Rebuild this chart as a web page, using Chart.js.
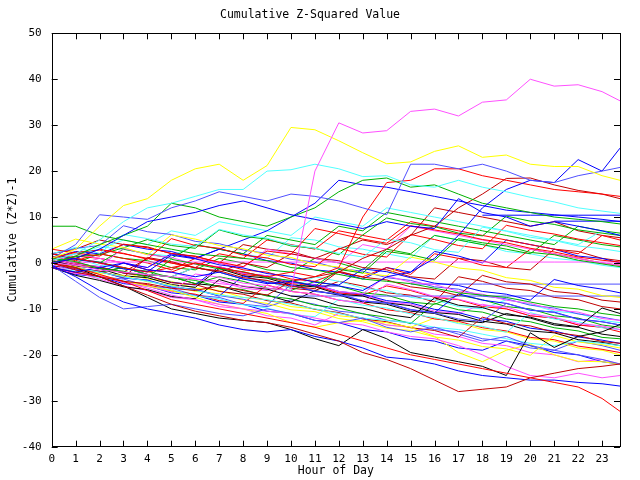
<!DOCTYPE html>
<html>
<head>
<meta charset="utf-8">
<script src="https://cdn.jsdelivr.net/npm/chart.js@4"></script>
<style>
  html, body { margin: 0; padding: 0; background: #fff; }
  #wrap { width: 640px; height: 480px; }
</style>
</head>
<body>
<div id="wrap"><canvas id="chart" width="640" height="480"></canvas></div>
<script>
// hour of day for each sample
const hours = [0,1,2,3,4,5,6,7,8,9,10,11,12,13,14,15,16,17,18,19,20,21,22,23,23.75];

// cumulative (Z*Z)-1, one array per day
const s01 = [0,-0.5,-1.5,-2,-2.5,-3,-3.5,-4.5,-5,-5.5,-6,20,30.5,28.3,28.8,33,33.5,32,35,35.5,40,38.5,38.8,37.3,35.3];
const s02 = [1,3,8,12.5,14,18,20.5,21.5,18,21.2,29.5,29,26.6,24,21.6,22,24.3,25.5,23,23.5,21.5,21,21,19,18];
const s03 = [0.5,2,5,9,12,13,14.5,16,16,20,20.3,21.5,20.5,18.8,19,17,16.5,18,16.5,15.5,14.3,13.3,12,11.3,10.8];
const s04 = [1,4,10.5,10,9.5,12,13.5,15.5,14.5,13.5,15,14.5,13.5,12,10.5,21.5,21.5,20.5,21.5,20,18,17.5,19,20,20.8];
const s05 = [0,1,3,6,9,10,11,12.5,13.5,12,10.5,9.5,8.5,7.5,9,8,7.5,14,11,10,8,9,8,7,6];
const s06 = [-1,-2,-1,0,-1.5,-2,-3,-2,-3.5,-4.5,-4,-5,-5,-6,-3,-2,1,6,12,16,18,17.5,22.5,20,25];
const s07 = [8,8,6,5,4,3,2,1.5,1,0.5,-1,-1.5,-2.5,-3.5,-4,-4.5,-5.5,-6.5,-7,-7.5,-8.5,-9.5,-10,-11,-11.5];
const s08 = [0,1.5,4,6,8,13,12,10,9,8,10,12,15.5,18,18.5,16.5,17,15,13,12,11,10,9.5,9,8.5];
const s09 = [2,1,0,-1,-2,-1,0,-1,-2,-3,-2,-3,-1,10,17.5,18,20.5,20.5,19,18,17,16,15.5,15,14.5];
const s10 = [-1,-2,-3,-4,-4.5,-5.5,-6,-5,-6,-7,-4,-3,-2,1,3,6,8,12,15,18.4,18.5,17,15.8,15,14];
const s11 = [0,-1,-2.5,-4,-6,-8,-9,-10,-11,-12,-13,-14,-15.5,-17,-18.5,-20,-21,-22,-23,-24,-25,-26,-27,-29.5,-32.3];
const s12 = [0,-1.5,-3,-5,-7,-9,-10.5,-11.5,-12.5,-13,-14,-15.5,-17,-19.5,-21,-23,-25.5,-28,-27.5,-27,-25,-24,-23,-22.5,-22];
const s13 = [-0.5,-3,-6,-8.5,-10,-11,-12,-13.5,-14.5,-15,-14.5,-16,-17,-18.5,-20.5,-21,-22,-23.5,-24.5,-25,-25.5,-25.5,-26,-26.3,-26.8];
const s14 = [-0.5,-4,-7.5,-10,-9.5,-9,-10,-11,-11.5,-10,-11,-12.5,-13,-12,-14,-15,-14,-15.5,-17,-16,-18,-19,-20,-21,-22];
const s15 = [0,-1,-3,-5,-7.5,-10,-11,-12,-12.5,-13,-14.5,-16.5,-18,-14.5,-16.5,-19.5,-20.5,-21.5,-22.5,-24.5,-15.2,-18.4,-16,-15,-13.4];
const s16 = [0,-1.5,-3,-4,-5.5,-7,-8,-9,-10,-10.5,-11,-12,-13,-13.5,-15,-16,-16.5,-18,-20,-22.5,-24.5,-25,-24,-25,-24.5];
const s17 = [0,-1,-2.5,-4,-5,-6,-7.5,-9,-10,-11,-13,-14,-13,-12.5,-13,-14,-16,-19.5,-21.5,-19,-17.7,-20,-21.4,-21.5,-22];
const s18 = [0,-1,-2,-3,-4,-5,-6,-7,-7.5,-8,-9,-10,-11,-12,-12.5,-13,-14,-14.5,-15.5,-16.5,-17.5,-18,-17,-17.5,-18];
const s19 = [3,2.2,1.5,4.1,3.3,2.1,1.4,0.2,-0.8,2.6,1.9,7.5,6.4,5.2,4.3,8.1,7.2,6.3,5.1,4.4,3.2,2.4,1.3,0.6,0.2];
const s20 = [1,0.3,-1.2,-1.8,-3.1,0.8,-0.2,-1.3,-1.9,-3.2,-3.8,-5.1,-1.4,-2.2,2.5,1.8,0.6,5.3,4.4,3.7,2.3,1.8,0.6,-0.2,-0.8];
const s21 = [2,0.8,0.1,-1.3,-1.9,1.7,0.9,-0.4,-1.1,-2.3,-2.9,-4.2,-4.8,-1.3,-1.9,-3.2,-4.4,-4.9,-6.2,-6.8,-8.1,-3.6,-4.9,-5.7,-6.5];
const s22 = [-1,-2.3,-2.8,-4.2,-5.1,-6.3,-2.4,-3.1,-4.4,-4.9,-6.2,-6.8,-8.1,-8.7,-4.6,-5.8,-7.3,-7.9,-9.2,-9.6,-11.1,-11.8,-13.2,-13.7,-14.5];
const s23 = [2,3.4,2.1,6.2,5.3,4.1,3.6,7.3,6.1,5.4,3.9,3.2,2.1,1.3,5.2,4.4,2.9,2.3,7.8,6.9,5.6,4.9,3.7,3.1,2.5];
const s24 = [0,-1.2,-1.8,-3.1,1.2,0.3,-1.1,-1.7,-3.2,-3.8,-5.1,-5.6,-1.8,-3.1,-3.7,-5.2,-5.8,-7.1,-2.7,-4.1,-4.6,-6.2,-6.7,-8.1,-8.5];
const s25 = [3,5.2,4.1,3.4,1.8,6.1,5.2,3.8,3.1,1.7,1.2,-0.3,-0.9,-2.2,-2.8,1.3,0.2,-1.1,-1.6,-3.2,-3.8,-5.3,-5.7,-7.1,-7.5];
const s26 = [-1,-2.7,-3.8,-5.2,-5.8,-7.3,-7.8,-3.6,-5.1,-5.7,-7.2,-7.7,-9.3,-9.8,-11.2,-11.9,-7.6,-9.2,-9.7,-11.3,-11.8,-13.2,-13.9,-9.8,-11];
const s27 = [0,-1.3,-1.9,-3.2,-3.8,-5.3,-5.7,-7.1,-7.9,-9.2,-4.7,-6.1,-6.8,-8.2,-8.7,-10.1,-10.9,-12.2,-12.7,-8.8,-10.2,-10.8,-12.3,-12.8,-13.5];
const s28 = [1,2.3,2.8,2.1,0.8,5.3,3.8,3.2,1.7,1.1,-0.3,-0.8,3.2,1.9,1.3,6.2,5.1,3.8,3.1,8.2,7.1,6.3,5.2,4.4,3.8];
const s29 = [0,1.4,1.8,3.3,5.1,3.8,3.2,7.2,5.8,5.2,3.7,3.2,1.8,6.1,9.8,8.6,7.9,6.5,5.9,10.2,9.1,8.4,7.2,6.5,6];
const s30 = [0,-1.4,-1.8,-3.3,-3.7,-5.2,-5.8,-7.2,-2.8,-4.3,-4.8,-6.2,-6.8,-8.3,-8.7,-10.2,-10.8,-6.7,-8.1,-8.8,-10.3,-10.7,-12.2,-12.8,-13.5];
const s31 = [1,-0.2,-0.8,3.2,1.8,1.2,-0.3,-0.8,-2.2,-2.8,-4.1,-4.8,-6.2,-6.7,-2.8,-4.2,-4.7,-6.2,-6.8,-8.1,-8.8,-10.2,-10.7,-12.1,-12.5];
const s32 = [-1,-1.8,-3.2,-3.9,-5.1,-5.8,-7.2,-7.8,-9.1,-9.8,-11.2,-11.7,-7.9,-9.2,-9.8,-11.1,-11.9,-13.2,-13.8,-15.1,-10.8,-12.2,-12.8,-14.1,-14.5];
const s33 = [1,-0.3,-0.9,-2.2,-2.8,-4.3,-4.7,-6.2,-6.8,-8.2,-8.7,-10.1,-10.8,-12.2,-12.8,-14.1,-14.7,-16.2,-11.8,-13.2,-13.7,-15.1,-15.8,-17.1,-17.5];
const s34 = [0,-0.8,-2.2,-2.7,-4.1,-4.8,-6.2,-6.7,-8.1,-8.8,-10.2,-10.6,-12.1,-12.8,-14.2,-14.7,-16.1,-16.8,-18.2,-18.7,-20.1,-15.8,-17.2,-17.8,-18.5];
const s35 = [0.5,-0.7,-1.2,-2.8,-3.2,-4.7,-5.3,-1.2,-2.8,-3.3,-4.8,-5.2,-6.8,-7.2,-8.7,-9.3,-10.8,-11.2,-12.7,-13.3,-14.8,-15.2,-16.7,-17.3,-18];
const s36 = [2,3.2,3.8,8.1,6.8,6.2,4.7,4.2,2.8,2.1,0.8,0.2,-1.2,-1.8,-3.2,-3.8,-5.2,-5.7,-7.2,-7.8,-9.2,-9.8,-11.1,-11.8,-12.5];
const s37 = [-1,-2.2,-2.8,-4.2,-4.7,-6.1,-6.8,-8.2,-8.8,-4.8,-6.2,-6.8,-8.1,-8.7,-10.2,-10.8,-12.2,-12.7,-14.1,-14.8,-16.2,-16.7,-18.1,-18.8,-19.5];
const s38 = [0,-1,-2,0,-1,2,1,3,5,7,10,13,18,17,16.5,15.5,14.5,13.5,12.5,11.5,11,10.5,10,9.5,9];
const s39 = [1,2,3,5,4,7,6,9,8,7,6,10,9,8,12,11,10,9,8,7,6,5,4,7,6];
const s40 = [2,1,0,3,2,1,4,3,2,6,5,4,8,7,11,10,9,8,7,6,5,4,8,7,6.5];
const s41 = [0,1,3,2,1,0,-1,2,1,5,4,3,7,6,5,9,8,7,6,5,4,3,2,6,5];
const s42 = [-1,0,-1,-2,1,0,-1,-2,0,-1,2,1,3,5,4,6,12,11,10,9,8,9,7,6,5.5];
const s43 = [0,2,1,0,-1,2,1,0,-1,3,2,1,0,4,3,8,7,6,5,4,3,2,1,0,-0.5];
const s44 = [2,0.8,0.2,-1.2,-1.8,-3.2,-3.8,-5.2,-5.8,-7.2,-7.8,-9.2,-9.8,-11.1,-11.8,-13.2,-8.8,-10.2,-10.7,-12.2,-12.8,-14.1,-14.8,-16.2,-16.5];
const s45 = [1,-0.2,-0.8,-2.2,-2.8,-4.2,-4.8,-0.8,-2.2,-2.8,-4.2,-4.7,-6.2,-6.8,-8.2,-8.7,-10.1,-10.8,-12.2,-12.7,-14.2,-14.8,-16.1,-16.8,-17.5];
// days with no new data late in the day stay flat
const s46 = [0.2,0.2,0.2,0.2,0.2,0.2,0.2,0.2,0.2,0.2,0.2,0.2,0.2,0.2,0.2,0.2,0.2,0.2,0.2,0.2,0.2,0.2,0.2,0.2,0.2];
const s47 = [null,null,null,null,null,null,null,null,null,null,-7.2,-7.2,-7.2,-7.2,-7.2,-7.2,-7.2,-7.2,-7.2,-7.2,-7.2,-7.2,-7.2,-7.2,-7.2];
const s48 = [null,null,null,null,null,null,null,null,null,null,null,null,null,null,null,-4.6,-4.6,-4.6,-4.6,-4.6,-4.6,-4.6,-4.6,-4.6,-4.6];
const s49 = [null,null,null,null,null,null,null,null,null,null,null,null,null,null,null,null,null,null,10.4,10.4,10.4,10.4,10.4,10.4,10.4];
const s50 = [null,null,null,null,null,null,null,null,null,null,null,null,null,null,null,null,null,null,null,null,null,9.1,9.1,9.1,9.1];
const s51 = [1.5,0.5,2,1,0,-1.5,1,0,-1.5,-2,-3.5,-4,-2,-3,-1,-2.5,2,1,-0.5,-1,3,2,1,0,-0.5];
const s52 = [0,-1,-2,-1,-2.5,-3,-4.5,-3,-4,-5.5,-6,-4,-5,-6.5,-7,-8.5,-9,-7,-8,-9.5,-10,-11.5,-12,-13.5,-14];
const s53 = [1,2.5,2,4,3,2.5,1,3,2,0.5,0,-1.5,-2,-3.5,-1,-2,2.5,1.5,0,5,4,3,1.5,1,0];
const s54 = [-0.5,-2,-3.5,-5,-6,-7.5,-8,-9.5,-10,-11.5,-12,-13.5,-11,-12,-13.5,-14,-15.5,-16,-17.5,-18,-19.5,-20,-21.5,-21,-22];
const s55 = [0,1,-0.5,-1,-2.5,-3,-1,-2,-3.5,-4,-5.5,-3,-4,-5.5,-6,-7.5,-8,-9.5,-10,-8,-9,-10.5,-11,-12.5,-13];
const s56 = [2,3,5,4,3.5,2,1.5,0,4,3,2.5,1,0.5,-1,-1.5,-3,-3.5,1,0.5,-1,-1.5,3,2.5,1,0.5];
const s57 = [1,0,-1.5,-2,-3.5,-4,-5.5,-6,-7.5,-8,-9.5,-10,-11.5,-12,-13.5,-14,-12,-13,-14.5,-15,-16.5,-17,-18.5,-19,-20];
const s58 = [0,-1.5,-2,-1,-2.5,-3,-4.5,-5,-6.5,-7,-8.5,-6,-7,-8.5,-9,-10.5,-11,-12.5,-13,-11,-12,-13.5,-14,-15.5,-16];
const s59 = [-0.5,-1.5,-3,-3.5,-5,-5.5,-7,-7.5,-9,-9.5,-8,-9,-10.5,-11,-12.5,-13,-14.5,-15,-16.5,-17,-18.5,-19,-17,-18,-19];
const s60 = [0.5,1.5,1,0,-1.5,-2,0,-1,-2.5,-3,-4.5,-5,-6.5,-7,-5,-6,-7.5,-8,-9.5,-10,-11.5,-12,-13.5,-14,-15];
const s61 = [1,0,2,1,0.5,-1,-1.5,1,0,-1.5,-2,1,0,-1.5,3,2,6,5,4,3,2,6,5,4,3.5];
const s62 = [-1,-2.5,-3,-4.5,-5,-6.5,-7,-8.5,-9,-10.5,-11,-12.5,-13,-14.5,-15,-16.5,-17,-18.5,-19,-17,-18,-19.5,-20,-21.5,-22];
const s63 = [0.5,-0.5,1,0,-1.5,-2,-3.5,-4,-5.5,-6,-4,-5,-6.5,-7,-8.5,-9,-10.5,-11,-9,-10,-11.5,-12,-13.5,-14,-14.5];
const s64 = [1,2,3.5,3,2,1.5,4,3,2,1,5.5,5,3.5,3,2,1,6,5,4,2.5,2,1,0.5,-0.5,-1];
const s65 = [0,1,0,-1,-2.5,-3,-1,-2,-3.5,-4,-5.5,-6,-4,-5,-6.5,-7,-8.5,-3,-4,-5.5,-6,-7.5,-8,-9.5,-10];

const series = [s01,s02,s03,s04,s05,s06,s07,s08,s09,s10,s11,s12,s13,s14,s15,s16,s17,s18,s19,s20,
  s21,s22,s23,s24,s25,s26,s27,s28,s29,s30,s31,s32,s33,s34,s35,s36,s37,s38,s39,s40,
  s41,s42,s43,s44,s45,s46,s47,s48,s49,s50,s51,s52,s53,s54,s55,s56,s57,s58,s59,s60,
  s61,s62,s63,s64,s65];
const seriesColors = ["#ff50ff","#ffff00","#50ffff","#5050ff","#0000ff","#0000ff","#00b000","#00b000","#ff0000","#c00000",
  "#ff0000","#c00000","#0000ff","#5050ff","#000000","#ff50ff","#ffff00","#50ffff","#ff0000","#00b000",
  "#0000ff","#ff50ff","#50ffff","#c00000","#ffff00","#000000","#5050ff","#ff0000","#00b000","#0000ff",
  "#ff50ff","#50ffff","#c00000","#ffff00","#000000","#5050ff","#ff0000","#0000ff","#50ffff","#00b000",
  "#ff0000","#c00000","#ff50ff","#00b000","#0000ff","#ff50ff","#5050ff","#5050ff","#0000ff","#0000ff",
  "#ff0000","#00b000","#0000ff","#ff50ff","#50ffff","#c00000","#ffff00","#000000","#5050ff","#ff0000",
  "#00b000","#0000ff","#ff50ff","#50ffff","#c00000"];

const FONT = "'DejaVu Sans Mono', monospace";

// gnuplot style: box round the plot, ticks pointing inwards on all four sides
const frame = {
  id: "frame",
  afterDatasetsDraw(chart) {
    const { ctx, chartArea: a, scales } = chart;
    ctx.save();
    ctx.strokeStyle = "#000";
    ctx.lineWidth = 1;
    ctx.beginPath();
    scales.x.ticks.forEach(t => {
      const px = Math.round(scales.x.getPixelForValue(t.value)) + 0.5;
      ctx.moveTo(px, a.bottom); ctx.lineTo(px, a.bottom - 6);
      ctx.moveTo(px, a.top); ctx.lineTo(px, a.top + 6);
    });
    scales.y.ticks.forEach(t => {
      const py = Math.round(scales.y.getPixelForValue(t.value)) + 0.5;
      ctx.moveTo(a.left, py); ctx.lineTo(a.left + 6, py);
      ctx.moveTo(a.right, py); ctx.lineTo(a.right - 6, py);
    });
    ctx.stroke();
    ctx.strokeRect(Math.round(a.left) + 0.5, Math.round(a.top) + 0.5,
      Math.round(a.right - a.left), Math.round(a.bottom - a.top));
    ctx.restore();
  }
};

new Chart(document.getElementById("chart"), {
  type: "line",
  data: {
    labels: hours,
    datasets: series.map((vals, i) => ({
      data: vals.map((v, j) => ({ x: hours[j], y: v })),
      borderColor: seriesColors[i],
      borderWidth: 1,
      pointRadius: 0,
      tension: 0,
      spanGaps: false
    }))
  },
  options: {
    responsive: false,
    animation: false,
    layout: { padding: { left: 0, right: 20, top: 0, bottom: 0 } },
    plugins: {
      legend: { display: false },
      tooltip: { enabled: false },
      title: {
        display: true,
        text: "Cumulative Z-Squared Value",
        color: "#000",
        font: { family: FONT, size: 11.5, weight: "normal" },
        padding: { top: 8, bottom: 11.5 }
      }
    },
    scales: {
      x: {
        type: "linear",
        min: 0,
        max: 23.75,
        grid: { display: false, drawTicks: false },
        border: { display: false },
        ticks: {
          stepSize: 1,
          includeBounds: false,
          autoSkip: false,
          maxRotation: 0,
          padding: 6,
          color: "#000",
          font: { family: FONT, size: 11 },
          callback: v => Number.isInteger(v) ? String(v) : ""
        },
        title: {
          display: true,
          text: "Hour of Day",
          color: "#000",
          font: { family: FONT, size: 11.5 },
          padding: { top: 0, bottom: 2 }
        },
        afterFit: s => { s.height = 33.3; }
      },
      y: {
        min: -40,
        max: 50,
        grid: { display: false, drawTicks: false },
        border: { display: false },
        ticks: {
          stepSize: 10,
          padding: 10,
          color: "#000",
          font: { family: FONT, size: 11 }
        },
        title: {
          display: true,
          text: "Cumulative (Z*Z)-1",
          color: "#000",
          font: { family: FONT, size: 11.5 },
          padding: { top: 6, bottom: 0 }
        },
        afterFit: s => { s.width = 51.7; }
      }
    }
  },
  plugins: [frame]
});
</script>
</body>
</html>
